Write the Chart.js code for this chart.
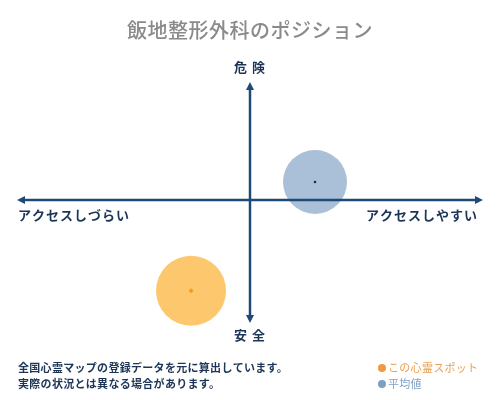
<!DOCTYPE html>
<html>
<head>
<meta charset="utf-8">
<script src="https://cdn.jsdelivr.net/npm/chart.js@4"></script>
<style>
html,body{margin:0;padding:0;background:#fff;}
canvas{display:block;}
</style>
</head>
<body>
<canvas id="c" width="500" height="400"></canvas>
<script>
const chartTitle = '飯地整形外科のポジション';
const seriesNames = ['この心霊スポット', '平均値'];
const xValues = [-2.53, 2.79];
const yValues = [-7.69, 1.53];
const yAxisLabels = ['危 険', '安 全'];
const xAxisLabels = ['アクセスしづらい', 'アクセスしやすい'];
const footNotes = ['全国心霊マップの登録データを元に算出しています。', '実際の状況とは異なる場合があります。'];

const FONT = '"Noto Sans CJK JP", "Noto Sans", sans-serif';
const NAVY = '#1f4a75';
const LABEL = '#1d3557';

const decorPlugin = {
  id: 'decor',
  afterDatasetsDraw(chart) {
    const ctx = chart.ctx;
    const xs = chart.scales.x, ys = chart.scales.y;
    const a = chart.chartArea;
    const cx = xs.getPixelForValue(0), cy = ys.getPixelForValue(0);
    ctx.save();
    ctx.strokeStyle = NAVY; ctx.fillStyle = NAVY; ctx.lineWidth = 2.5;
    // horizontal
    ctx.beginPath(); ctx.moveTo(a.left + 4, cy); ctx.lineTo(a.right - 4, cy); ctx.stroke();
    ctx.beginPath(); ctx.moveTo(a.left, cy); ctx.lineTo(a.left + 8, cy - 4); ctx.lineTo(a.left + 8, cy + 4); ctx.closePath(); ctx.fill();
    ctx.beginPath(); ctx.moveTo(a.right, cy); ctx.lineTo(a.right - 8, cy - 4); ctx.lineTo(a.right - 8, cy + 4); ctx.closePath(); ctx.fill();
    // vertical
    const vb = a.bottom + 5;
    ctx.beginPath(); ctx.moveTo(cx, a.top + 4); ctx.lineTo(cx, vb - 4); ctx.stroke();
    ctx.beginPath(); ctx.moveTo(cx, a.top); ctx.lineTo(cx - 4, a.top + 8); ctx.lineTo(cx + 4, a.top + 8); ctx.closePath(); ctx.fill();
    ctx.beginPath(); ctx.moveTo(cx, vb); ctx.lineTo(cx - 4, vb - 8); ctx.lineTo(cx + 4, vb - 8); ctx.closePath(); ctx.fill();
    ctx.restore();
  },
  afterDraw(chart) {
    const ctx = chart.ctx;
    const xs = chart.scales.x, ys = chart.scales.y;
    const a = chart.chartArea;
    const cx = xs.getPixelForValue(0), cy = ys.getPixelForValue(0);
    ctx.save();
    ctx.textBaseline = 'middle';
    // title
    ctx.fillStyle = '#8a8a8a';
    ctx.font = '500 20px ' + FONT;
    ctx.textAlign = 'center';
    ctx.letterSpacing = '0.5px';
    ctx.fillText(chartTitle, 250, 30);
    // axis labels
    ctx.fillStyle = LABEL;
    ctx.font = 'bold 13px ' + FONT;
    ctx.letterSpacing = '1px';
    ctx.fillText(yAxisLabels[0], cx, a.top - 15);
    ctx.fillText(yAxisLabels[1], cx, a.bottom + 17);
    ctx.textAlign = 'left';
    ctx.fillText(xAxisLabels[0], a.left + 1, cy + 15);
    ctx.textAlign = 'right';
    ctx.fillText(xAxisLabels[1], a.right - 5, cy + 15);
    // footnotes
    ctx.letterSpacing = '0.3px';
    ctx.font = 'bold 11px ' + FONT;
    ctx.textAlign = 'left';
    ctx.fillStyle = LABEL;
    ctx.fillText(footNotes[0], 18, 368);
    ctx.fillText(footNotes[1], 18, 384);
    // legend
    const legendColors = ['#ef9a3c', '#7c9fc4'];
    const legendText = ['#e8a050', '#7f9fc2'];
    seriesNames.forEach((n, i) => {
      const y = 368 + i * 16;
      ctx.fillStyle = legendColors[i];
      ctx.beginPath(); ctx.arc(382, y, 4, 0, Math.PI * 2); ctx.fill();
      ctx.fillStyle = legendText[i];
      ctx.font = '11px ' + FONT;
      ctx.fillText(n, 388, y);
    });
    ctx.restore();
  }
};

new Chart(document.getElementById('c'), {
  type: 'scatter',
  data: {
    datasets: [
      { label: seriesNames[0], data: [{ x: xValues[0], y: yValues[0] }], pointRadius: 35, pointHoverRadius: 35, backgroundColor: '#fdc86d', borderWidth: 0, order: 2, clip: false },
      { label: seriesNames[1], data: [{ x: xValues[1], y: yValues[1] }], pointRadius: 32, pointHoverRadius: 32, backgroundColor: '#aabfd8', borderWidth: 0, order: 2, clip: false },
      { label: seriesNames[0] + '中心', data: [{ x: xValues[0], y: yValues[0] }], pointRadius: 2.5, pointStyle: 'rectRot', backgroundColor: '#ee9d1c', borderWidth: 0, order: 1, clip: false },
      { label: seriesNames[1] + '中心', data: [{ x: xValues[1], y: yValues[1] }], pointRadius: 1.3, backgroundColor: '#1c2f48', borderWidth: 0, order: 1, clip: false }
    ]
  },
  options: {
    responsive: false,
    animation: false,
    events: [],
    layout: { autoPadding: false, padding: { left: 17, right: 17, top: 82, bottom: 82 } },
    scales: {
      x: { type: 'linear', min: -10, max: 10, display: false },
      y: { type: 'linear', min: -10, max: 10, display: false }
    },
    plugins: { legend: { display: false }, tooltip: { enabled: false }, title: { display: false } }
  },
  plugins: [decorPlugin]
});
</script>
</body>
</html>
